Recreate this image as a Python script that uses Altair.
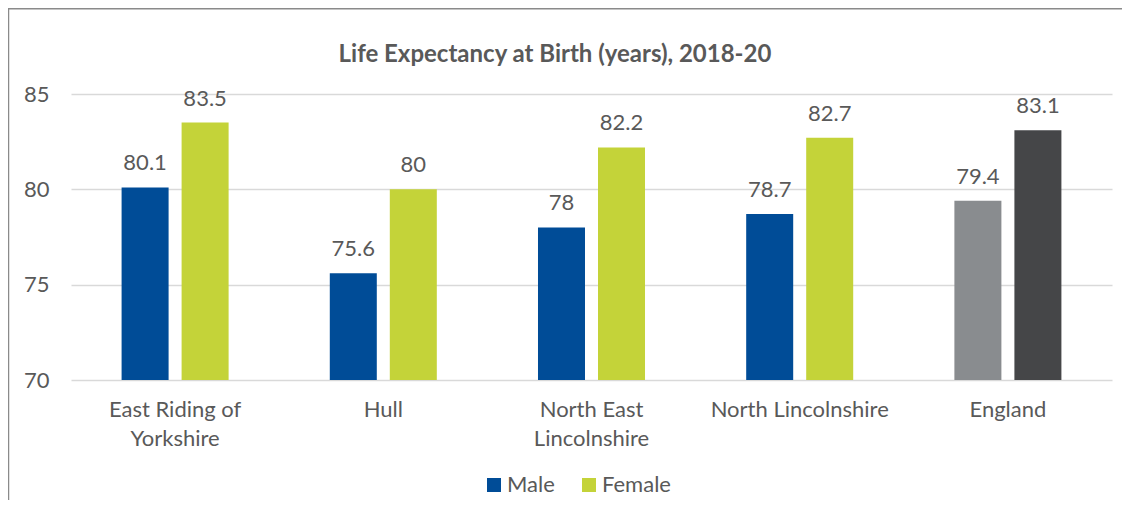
import altair as alt
import pandas as pd

title_text = "Life Expectancy at Birth (years), 2018-20"
regions = ["East Riding of Yorkshire", "Hull", "North East Lincolnshire", "North Lincolnshire", "England"]
male = [80.1, 75.6, 78.0, 78.7, 79.4]
female = [83.5, 80.0, 82.2, 82.7, 83.1]
sexes = ["Male", "Female"]
series_domain = ["Male", "Female", "England Male", "England Female"]
series_colors = ["#004C97", "#C4D339", "#898C8F", "#454648"]
y_ticks = [70, 75, 80, 85]

rows = []
for r, m, f in zip(regions, male, female):
    for s, v in zip(sexes, [m, f]):
        series = ("England " + s) if r == "England" else s
        rows.append({"region": r, "sex": s, "value": v, "series": series})
df = pd.DataFrame(rows)

FONT = "Lato"
TXT = "#595959"
FS = 22

label_expr = ("datum.label == 'East Riding of Yorkshire' ? ['East Riding of', 'Yorkshire'] : "
              "datum.label == 'North East Lincolnshire' ? ['North East', 'Lincolnshire'] : datum.label")

x = alt.X("region:N", sort=regions, title=None,
          scale=alt.Scale(paddingInner=0, paddingOuter=0),
          axis=alt.Axis(labelAngle=0, labelFontSize=FS, labelPadding=19, labelLineHeight=29,
                        ticks=False, domain=False, labelExpr=label_expr, labelColor=TXT, labelFont=FONT))
xo = alt.XOffset("sex:N", sort=sexes,
                 scale=alt.Scale(domain=sexes, paddingInner=0.2167, paddingOuter=0.843))
y = alt.Y("value:Q", title=None,
          scale=alt.Scale(domain=[70, 85], nice=False, zero=False),
          axis=alt.Axis(values=y_ticks, grid=True, gridColor="#D9D9D9", gridWidth=1.3,
                        domain=False, ticks=False, labelPadding=22, labelFontSize=FS,
                        labelColor=TXT, labelFont=FONT))

base = alt.Chart(df)

bars = base.mark_bar().encode(
    x=x, xOffset=xo, y=y, y2=alt.datum(70),
    color=alt.Color("series:N",
                    scale=alt.Scale(domain=series_domain, range=series_colors),
                    legend=alt.Legend(values=["Male", "Female"], title=None, orient="none",
                                      legendX=412, legendY=380, direction="horizontal",
                                      symbolType="square", symbolSize=196, symbolStrokeWidth=0,
                                      labelFontSize=FS, labelColor=TXT, labelFont=FONT,
                                      labelOffset=2, columnPadding=23)),
)

texts = base.mark_text(baseline="alphabetic", dy=-17, fontSize=FS, color=TXT, font=FONT).encode(
    x=x, xOffset=xo, y=y, text=alt.Text("value:Q")
)

border = alt.Chart(pd.DataFrame({"a": [0]})).mark_rect(
    fill=None, stroke="#8A8A8A", strokeWidth=1.5
).encode(x=alt.value(-62.5), x2=alt.value(1200), y=alt.value(-85.2), y2=alt.value(600))

title = alt.Chart(pd.DataFrame({"t": [title_text]})).mark_text(
    baseline="alphabetic", align="center", fontSize=24, fontWeight="bold", color=TXT, font=FONT
).encode(x=alt.value(484), y=alt.value(-32), text="t:N")

chart = alt.layer(border, bars, texts, title).properties(
    width=1041, height=286,
    autosize=alt.AutoSizeParams(type="none"),
    padding={"left": 63, "top": 86, "right": 10, "bottom": 120},
).configure_view(stroke=None)

chart.save("out.html", embed_options={"renderer": "svg", "actions": False})
